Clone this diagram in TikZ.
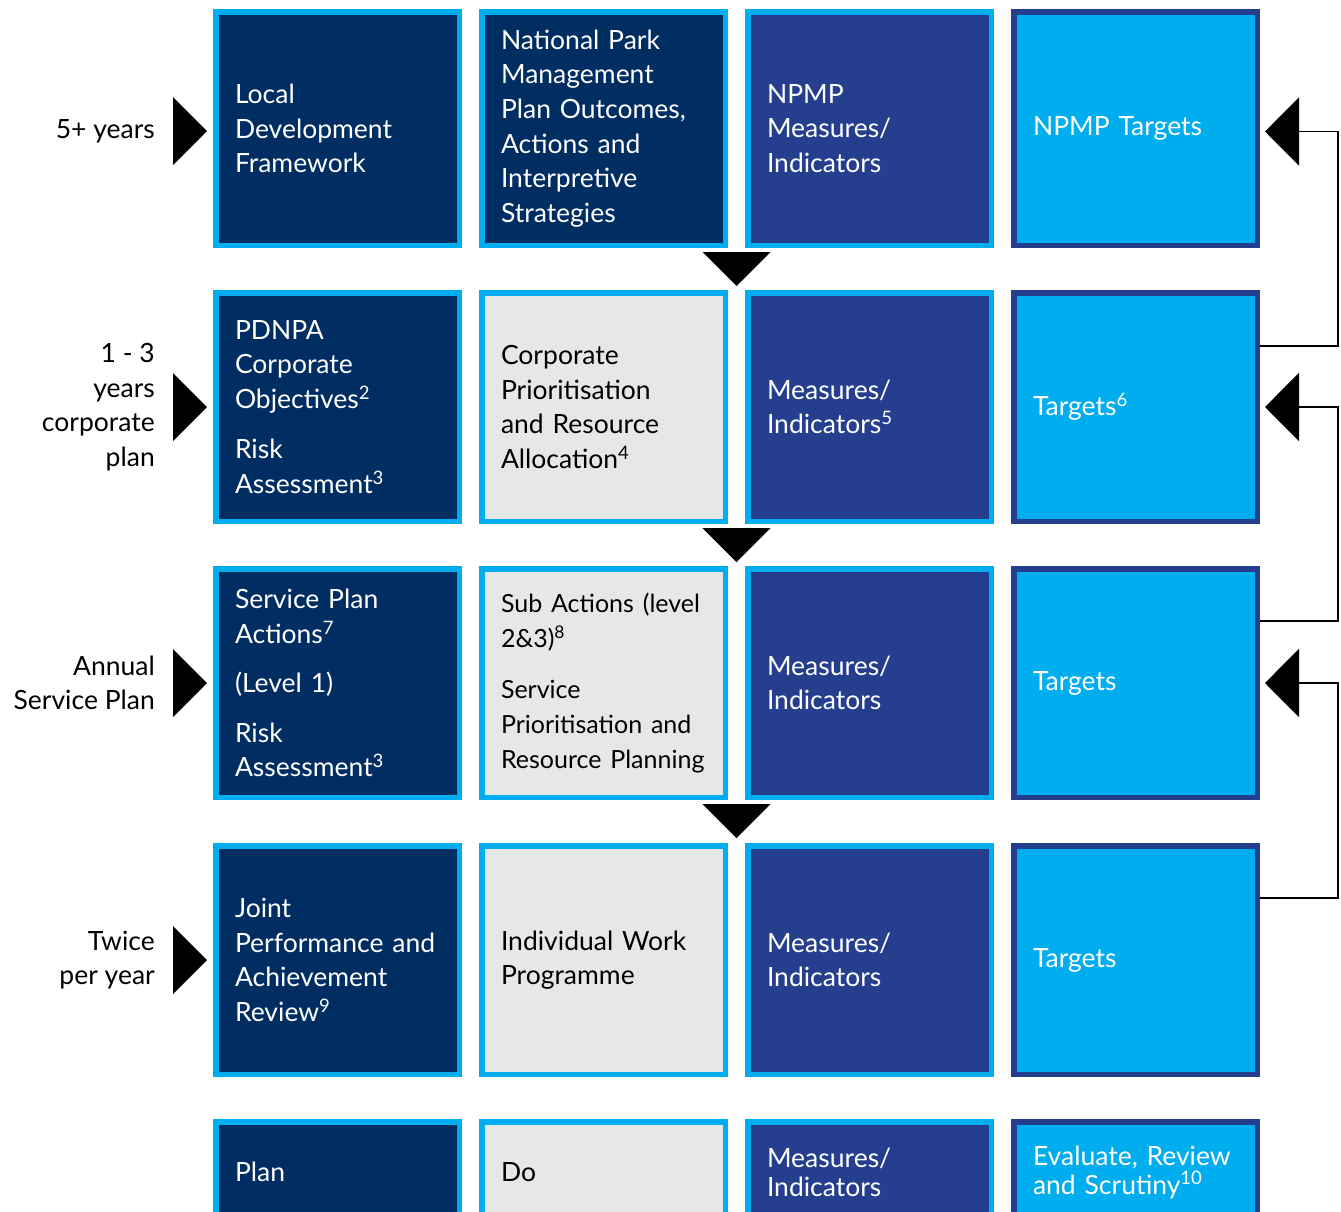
\documentclass[tikz,border=0pt]{standalone}
\usepackage{fontspec}
\setmainfont{Lato}
\usetikzlibrary{arrows.meta,calc,positioning}

\definecolor{navybox}{HTML}{002D62}
\definecolor{cyanbox}{HTML}{00AEEF}
\definecolor{bluebox}{HTML}{253F8E}
\definecolor{greybox}{HTML}{E6E7E8}

\newcommand{\cellfont}{\fontsize{26.5}{34.6}\selectfont}
\newcommand{\tightfont}{\fontsize{26.5}{29}\selectfont}

\tikzset{
  cell/.style={rectangle, line width=5.5pt, minimum width=243.5pt, minimum height=228.5pt,
    text width=205pt, inner xsep=0pt, inner ysep=0pt, align=left, font=\cellfont},
  plancell/.style={cell, draw=cyanbox, fill=navybox, text=white},
  docell/.style={cell, draw=cyanbox, fill=greybox, text=black},
  meascell/.style={cell, draw=cyanbox, fill=bluebox, text=white},
  tgtcell/.style={cell, draw=bluebox, fill=cyanbox, text=white},
  toprow/.style={minimum height=233.5pt},
  lastrow/.style={minimum height=100.5pt},
  period/.style={align=right, font=\cellfont, inner sep=0pt},
  feedback/.style={line width=1.1pt, -{Triangle[length=34pt,width=68pt]}, shorten >=5pt},
}

\begin{document}
\begin{tikzpicture}[x=1pt, y=-1pt, line join=miter]
\useasboundingbox (0,0) rectangle (1341,1211);

% row 1 : 5+ years
\node[plancell, toprow] (plan1) at (337.5,128.5) {Local\\Development\\Framework};
\node[plancell, toprow] (do1) at (603.5,128.5) {National Park\\Management\\Plan Outcomes,\\Actions and\\Interpretive\\Strategies};
\node[meascell, toprow] (meas1) at (869.5,128.5) {NPMP\\Measures/\\Indicators};
\node[tgtcell, toprow] (tgt1) at (1135.5,128.5) {NPMP Targets};

% row 2 : corporate plan
\node[plancell] (plan2) at (337.5,407) {PDNPA\\Corporate\\Objectives\textsuperscript{2}\\[16pt]Risk\\Assessment\textsuperscript{3}};
\node[docell] (do2) at (603.5,407) {Corporate\\Prioritisation\\and Resource\\Allocation\textsuperscript{4}};
\node[meascell] (meas2) at (869.5,407) {Measures/\\Indicators\textsuperscript{5}};
\node[tgtcell] (tgt2) at (1135.5,407) {Targets\textsuperscript{6}};

% row 3 : annual service plan
\node[plancell] (plan3) at (337.5,683) {Service Plan\\Actions\textsuperscript{7}\\[15pt](Level 1)\\[15pt]Risk\\Assessment\textsuperscript{3}};
\node[docell] (do3) at (603.5,683) {\fontsize{25}{34.6}\selectfont Sub Actions (level\\2\&3)\textsuperscript{8}\\[17pt]Service\\Prioritisation and\\Resource Planning};
\node[meascell] (meas3) at (869.5,683) {Measures/\\Indicators};
\node[tgtcell] (tgt3) at (1135.5,683) {Targets};

% row 4 : twice per year
\node[plancell] (plan4) at (337.5,960) {Joint\\Performance and\\Achievement\\Review\textsuperscript{9}};
\node[docell] (do4) at (603.5,960) {Individual Work\\Programme};
\node[meascell] (meas4) at (869.5,960) {Measures/\\Indicators};
\node[tgtcell] (tgt4) at (1135.5,960) {Targets};

% row 5 : key
\node[plancell, lastrow] (plan5) at (337.5,1172) {Plan};
\node[docell, lastrow] (do5) at (603.5,1172) {Do};
\node[meascell, lastrow, font=\tightfont] (meas5) at (869.5,1172) {Measures/\\Indicators};
\node[tgtcell, lastrow, font=\tightfont] (tgt5) at (1135.5,1172) {Evaluate, Review\\and Scrutiny\textsuperscript{10}};

% time scales
\node[period, left=58pt of plan1, yshift=-2.5pt] (when1) {5+ years};
\node[period, left=58pt of plan2] (when2) {1 - 3\\years\\corporate\\plan};
\node[period, left=58pt of plan3] (when3) {Annual\\Service Plan};
\node[period, left=58pt of plan4] (when4) {Twice\\per year};

\fill ([yshift=-2.5pt]plan1.west) ++(-6,0) -- ++(-34,-34) -- ++(0,68) -- cycle;
\foreach \r in {2,3,4}
  \fill (plan\r.west) ++(-6,0) -- ++(-34,-34) -- ++(0,68) -- cycle;

% cascade downwards
\foreach \r in {1,2,3}
  \fill ($(do\r.south east)!0.5!(meas\r.south west)$) ++(-34,4) -- ++(68,0) -- ++(-34,34) -- cycle;

% feedback to the row above
\draw[feedback] ([yshift=-56pt]tgt2.north east) -- ++(78,0) |- ([yshift=-3pt]tgt1.east);
\draw[feedback] ([yshift=-55pt]tgt3.north east) -- ++(78,0) |- (tgt2.east);
\draw[feedback] ([yshift=-55pt]tgt4.north east) -- ++(78,0) |- (tgt3.east);
\end{tikzpicture}
\end{document}
